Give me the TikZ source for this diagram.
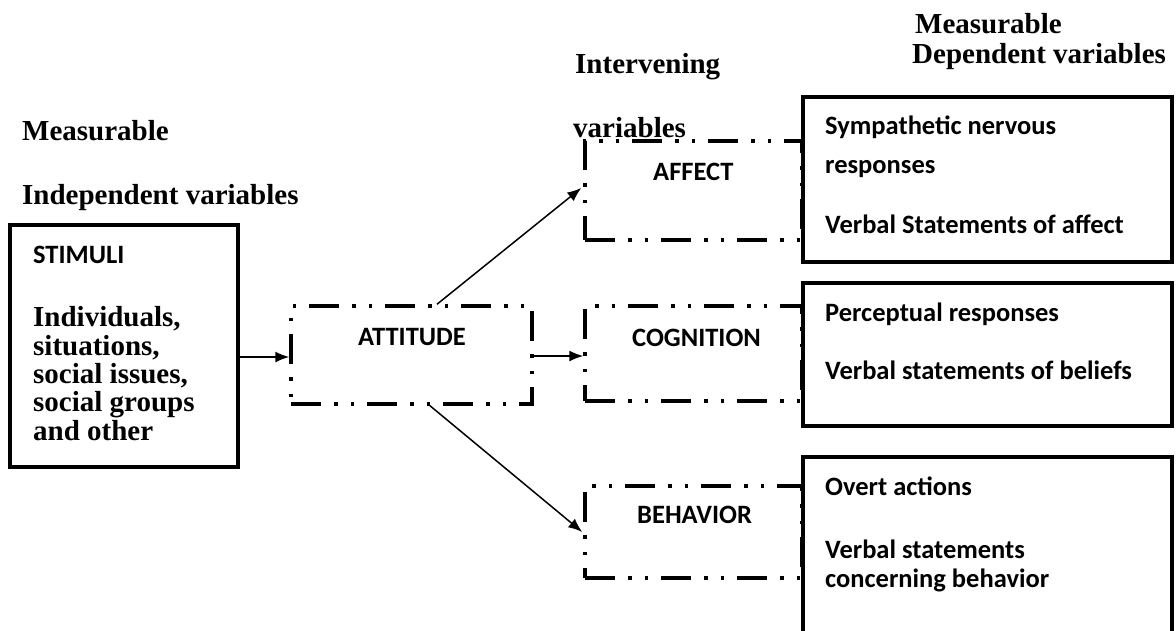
\documentclass[tikz,border=0pt]{standalone}
\usepackage{fontspec}
\usetikzlibrary{arrows.meta}
\newfontfamily\headfont{Liberation Serif}
\newfontfamily\boxfont{Carlito}
\tikzset{
  solidbox/.style={draw, line width=4.5pt, fill=white, inner sep=0pt},
  dashbox/.style={draw, line width=3.5pt, inner sep=0pt,
    dash pattern=on 30pt off 13pt on 3.5pt off 13pt on 3.5pt off 13pt},
  head/.style={anchor=base west, inner sep=0pt, align=left,
    font=\headfont\bfseries\fontsize{29}{28.3}\selectfont},
  boxtext/.style={anchor=base west, inner sep=0pt, align=left,
    font=\boxfont\bfseries\fontsize{26.5}{29}\selectfont},
  arr/.style={line width=1.5pt, -{Latex[length=14pt,width=11pt]}}
}
\begin{document}
\begin{tikzpicture}[x=1pt,y=-1pt]
  \useasboundingbox (0,0) rectangle (1176,630);%
  \clip (0,0) rectangle (1176,630);%
  % headings
  \node[head] (hindep1) at (22,140) {Measurable};%
  \node[head] (hindep2) at (22,204) {Independent variables};%
  \node[head] (hinter1) at (575,73) {Intervening};%
  \node[head] (hinter2) at (573,137) {variables};%
  \node[head] (hdep1) at (915,33) {Measurable};%
  \node[head] (hdep2) at (912,63) {Dependent variables};%
  % intervening boxes
  \node[dashbox, minimum width=241pt, minimum height=98pt] (attitude) at (411.5,355) {};%
  \node[dashbox, minimum width=217pt, minimum height=99pt] (affect) at (693.5,190.5) {};%
  \node[dashbox, minimum width=217pt, minimum height=95pt] (cognition) at (693.5,353.5) {};%
  \node[dashbox, minimum width=217pt, minimum height=92pt] (behavior) at (693.5,532) {};%
  % measured boxes
  \node[solidbox, minimum width=228pt, minimum height=242pt] (stimuli) at (124,346) {};%
  \node[solidbox, minimum width=369pt, minimum height=165pt] (dep1) at (987.5,179.5) {};%
  \node[solidbox, minimum width=369pt, minimum height=143pt] (dep2) at (987.5,354.5) {};%
  \node[solidbox, minimum width=369pt, minimum height=203pt] (dep3) at (987.5,558.5) {};%
  % texts (multi-line nodes sit on their last line)
  \node[boxtext] (tstim) at (33,263) {STIMULI};%
  \node[head] (tstimb) at (33,440) {Individuals,\\situations,\\social issues,\\social groups\\and other};%
  \node[boxtext] (tatt) at (358,345) {ATTITUDE};%
  \node[boxtext] (taff) at (653,180) {AFFECT};%
  \node[boxtext] (tcog) at (632,346) {COGNITION};%
  \node[boxtext] (tbeh) at (637,523) {BEHAVIOR};%
  \node[boxtext, font=\boxfont\bfseries\fontsize{26.5}{39}\selectfont] (td1a) at (825,173) {Sympathetic nervous\\responses};%
  \node[boxtext] (td1b) at (825,233) {Verbal Statements of affect};%
  \node[boxtext] (td2a) at (825,321) {Perceptual responses};%
  \node[boxtext] (td2b) at (825,379) {Verbal statements of beliefs};%
  \node[boxtext] (td3a) at (825,495) {Overt actions};%
  \node[boxtext] (td3b) at (825,587) {Verbal statements\\concerning behavior};%
  % arrows
  \draw[arr] (stimuli.east |- 0,357) -- (attitude.west |- 0,357);%
  \draw[arr] (attitude.east |- 0,356) -- (cognition.west |- 0,356);%
  \draw[arr] ([xshift=25.5pt]attitude.north) -- ([xshift=-2pt,yshift=2.5pt]affect.west);%
  \draw[arr] ([xshift=18.5pt]attitude.south) -- ([xshift=-1pt]behavior.west);%
\end{tikzpicture}
\end{document}
